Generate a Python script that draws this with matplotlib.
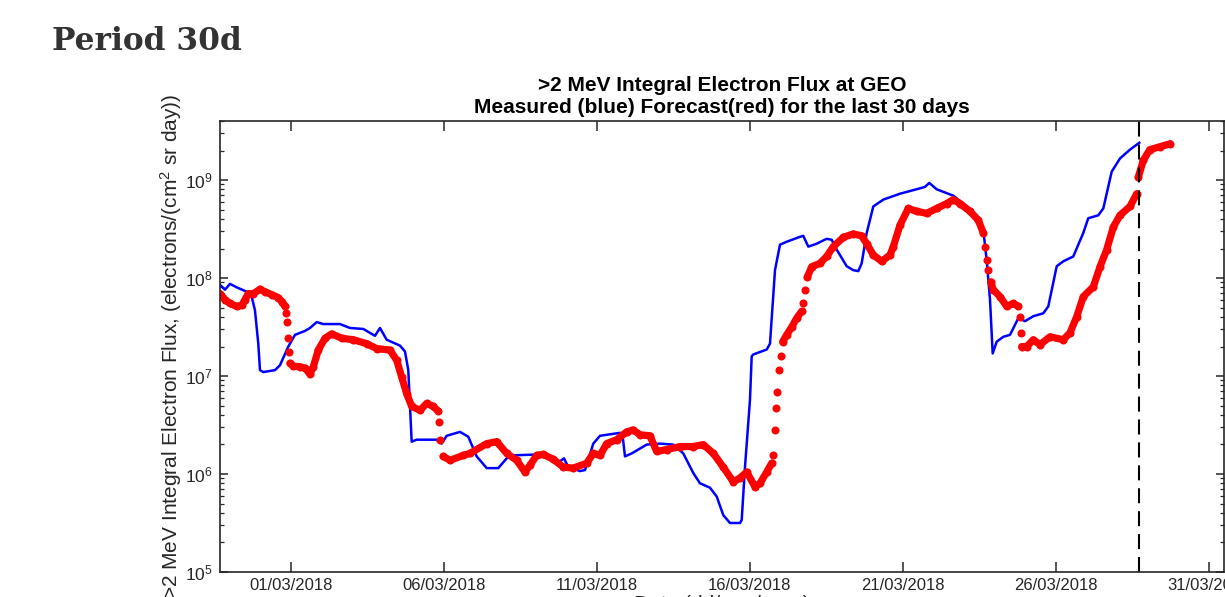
import numpy as np
import matplotlib
matplotlib.use("Agg")
import matplotlib.pyplot as plt
import matplotlib.dates as mdates
import pandas as pd

plt.rcParams['font.family'] = ['Liberation Sans', 'DejaVu Sans']
plt.rcParams['mathtext.fontset'] = 'custom'
plt.rcParams['mathtext.rm'] = 'Liberation Sans'
plt.rcParams['mathtext.it'] = 'Liberation Sans:italic'
plt.rcParams['mathtext.bf'] = 'Liberation Sans:bold'

# time axis in days since 01/03/2018 00:00 UT, flux as log10(electrons/(cm^2 sr day))
t0 = pd.Timestamp('2018-03-01')
now_day = 27.73

meas_day = [-2.310, -2.147, -1.984, -1.765, -1.438, -1.275, -1.167, -1.059, -1.003, -0.895,
            -0.513, -0.350, -0.078, 0.141, 0.467, 0.631, 0.850, 1.065, 1.611, 1.938,
            2.373, 2.755, 2.918, 3.137, 3.572, 3.735, 3.843, 3.954, 4.118, 4.771,
            4.935, 5.098, 5.533, 5.804, 6.078, 6.405, 6.784, 7.059, 7.222, 8.147,
            8.801, 8.931, 9.072, 9.454, 9.618, 9.889, 10.108, 10.761, 10.850, 10.925,
            11.144, 11.634, 12.069, 12.503, 12.830, 13.157, 13.376, 13.703, 13.922, 14.137,
            14.356, 14.683, 14.739, 14.846, 15.010, 15.065, 15.118, 15.556, 15.663, 15.827,
            15.990, 16.209, 16.644, 16.752, 16.915, 17.190, 17.516, 17.680, 17.843, 18.170,
            18.386, 18.549, 18.660, 18.824, 19.039, 19.366, 19.912, 20.565, 20.729, 20.869,
            21.111, 21.654, 21.980, 22.307, 22.634, 22.745, 22.853, 22.941, 23.072, 23.288,
            23.507, 23.778, 23.997, 24.268, 24.595, 24.758, 25.033, 25.248, 25.575, 25.902,
            26.065, 26.392, 26.556, 26.830, 27.101, 27.428, 27.732]
meas_log = [7.93, 7.88, 7.94, 7.905, 7.86, 7.81, 7.67, 7.33, 7.06, 7.04,
            7.06, 7.11, 7.30, 7.42, 7.46, 7.49, 7.55, 7.53, 7.53, 7.49,
            7.48, 7.41, 7.49, 7.37, 7.31, 7.25, 7.06, 6.33, 6.35, 6.35,
            6.31, 6.39, 6.43, 6.38, 6.18, 6.06, 6.06, 6.16, 6.19, 6.20,
            6.13, 6.16, 6.07, 6.03, 6.04, 6.31, 6.39, 6.42, 6.38, 6.18,
            6.21, 6.30, 6.31, 6.30, 6.21, 6.01, 5.905, 5.86, 5.77, 5.58,
            5.50, 5.50, 5.53, 6.07, 6.76, 7.20, 7.22, 7.27, 7.33, 8.08,
            8.34, 8.37, 8.42, 8.43, 8.32, 8.35, 8.40, 8.39, 8.29, 8.12,
            8.08, 8.07, 8.15, 8.46, 8.73, 8.80, 8.86, 8.915, 8.93, 8.97,
            8.905, 8.84, 8.76, 8.66, 8.49, 8.18, 7.78, 7.23, 7.35, 7.40,
            7.42, 7.59, 7.56, 7.61, 7.64, 7.71, 8.12, 8.17, 8.22, 8.46,
            8.61, 8.64, 8.71, 9.085, 9.22, 9.31, 9.38]

fcst_day = [-2.310, -2.147, -1.984, -1.765, -1.601, -1.493, -1.386, -1.222, -1.003, -0.840,
            -0.621, -0.405, -0.294, -0.186, -0.154, -0.111, -0.078, -0.046, -0.023, 0.085,
            0.304, 0.467, 0.631, 0.739, 0.902, 1.121, 1.340, 1.667, 2.046, 2.484,
            2.810, 3.245, 3.464, 3.627, 3.791, 3.954, 4.225, 4.444, 4.660, 4.824,
            4.856, 4.879, 4.987, 5.206, 5.641, 5.859, 6.405, 6.732, 7.059, 7.386,
            7.657, 7.820, 8.039, 8.255, 8.582, 8.908, 9.235, 9.673, 9.889, 10.108,
            10.327, 10.654, 10.980, 11.196, 11.415, 11.742, 11.961, 12.288, 12.722, 13.157,
            13.484, 13.810, 14.137, 14.464, 14.683, 14.902, 15.173, 15.337, 15.556, 15.719,
            15.771, 15.827, 15.859, 15.902, 15.967, 16.013, 16.078, 16.209, 16.373, 16.536,
            16.699, 16.752, 16.807, 16.882, 17.026, 17.297, 17.516, 17.732, 18.059, 18.386,
            18.660, 18.824, 19.039, 19.314, 19.585, 19.693, 19.912, 20.183, 20.458, 20.784,
            21.111, 21.438, 21.654, 21.873, 22.199, 22.471, 22.634, 22.690, 22.745, 22.797,
            22.876, 22.961, 23.180, 23.399, 23.614, 23.778, 23.833, 23.856, 23.889, 24.052,
            24.268, 24.487, 24.814, 25.248, 25.467, 25.686, 25.902, 26.229, 26.448, 26.667,
            26.883, 27.101, 27.428, 27.647, 27.699, 27.863, 28.075, 28.415, 28.742]
fcst_log = [7.84, 7.78, 7.74, 7.71, 7.72, 7.78, 7.84, 7.84, 7.885, 7.86,
            7.83, 7.80, 7.76, 7.71, 7.64, 7.55, 7.385, 7.25, 7.13, 7.10,
            7.095, 7.08, 7.02, 7.095, 7.265, 7.385, 7.43, 7.385, 7.37, 7.33,
            7.28, 7.265, 7.16, 6.99, 6.82, 6.69, 6.65, 6.72, 6.69, 6.64,
            6.53, 6.35, 6.18, 6.14, 6.19, 6.21, 6.31, 6.33, 6.21, 6.14,
            6.02, 6.09, 6.19, 6.20, 6.15, 6.07, 6.06, 6.11, 6.21, 6.19,
            6.31, 6.35, 6.43, 6.45, 6.40, 6.39, 6.23, 6.25, 6.28, 6.28,
            6.30, 6.21, 6.07, 5.92, 5.96, 6.02, 5.87, 5.905, 6.02, 6.11,
            6.19, 6.45, 6.67, 6.84, 7.06, 7.20, 7.35, 7.42, 7.50, 7.59,
            7.66, 7.74, 7.88, 8.01, 8.115, 8.15, 8.22, 8.32, 8.415, 8.45,
            8.43, 8.35, 8.235, 8.17, 8.235, 8.32, 8.54, 8.71, 8.68, 8.66,
            8.71, 8.76, 8.80, 8.76, 8.68, 8.59, 8.46, 8.32, 8.18, 8.08,
            7.96, 7.88, 7.81, 7.71, 7.74, 7.71, 7.605, 7.44, 7.30, 7.30,
            7.37, 7.32, 7.40, 7.37, 7.44, 7.605, 7.81, 7.91, 8.115, 8.29,
            8.52, 8.64, 8.73, 8.86, 9.03, 9.20, 9.31, 9.34, 9.37]

x0 = mdates.date2num(t0)
mx = x0 + np.array(meas_day)
my = 10 ** np.array(meas_log)
fx = x0 + np.array(fcst_day)
fy = 10 ** np.array(fcst_log)

fig = plt.figure(figsize=(12.25, 5.97), dpi=100)
fig.text(52 / 1225, 1 - 50 / 597, 'Period 30d', family='DejaVu Serif', weight='bold',
         fontsize=22.5, color='#333333', va='baseline')

ax = fig.add_axes([220 / 1225, 25 / 597, 1004 / 1225, 451 / 597])
ax.set_yscale('log')

ax.plot(mx, my, color='blue', lw=1.8)

# forecast dots: join the slow parts into a band, leave fast jumps as loose dots
fd = np.array(fcst_day)
fl = np.array(fcst_log)
steep = np.abs(np.diff(fl)) / np.diff(fd) > 1.5
cuts = np.where(steep)[0] + 1
for sx, sy in zip(np.split(fx, cuts), np.split(fy, cuts)):
    if len(sx) > 1:
        ax.plot(sx, sy, color='red', lw=5.2, solid_capstyle='round', solid_joinstyle='round')
ax.plot(fx, fy, 'o', color='red', ms=5.8, mec='none')

ax.axvline(x0 + now_day, color='black', lw=1.5, ls=(0, (7.2, 3.8)))

ax.set_xlim(x0 - 2.31, x0 + 30.5)
ax.set_ylim(1e5, 4e9)
ax.xaxis.set_major_locator(mdates.DayLocator(bymonthday=[1, 6, 11, 16, 21, 26, 31]))
ax.xaxis.set_major_formatter(mdates.DateFormatter('%d/%m/%Y'))

ax.tick_params(which='both', direction='in', top=True, right=True, colors='#262626',
               labelsize=12)
ax.tick_params(axis='x', which='major', length=7, width=1.1, pad=4)
ax.tick_params(axis='y', which='major', length=6, width=1.1, pad=5, labelsize=12.5)
ax.tick_params(axis='y', which='minor', length=3, width=0.9)
for s in ax.spines.values():
    s.set_linewidth(1.2)
    s.set_color('#262626')

ax.set_title('>2 MeV Integral Electron Flux at GEO\nMeasured (blue) Forecast(red) for the last 30 days',
             fontsize=15, fontweight='bold', linespacing=1.2, pad=6)
ax.set_ylabel('>2 MeV Integral Electron Flux, (electrons/(cm$^2$ sr day))', fontsize=15,
              color='#262626')
ax.yaxis.set_label_coords(-0.036, 0.5)
ax.set_xlabel('Date (dd/mm/yyyy)', fontsize=15, color='#262626')
ax.xaxis.set_label_coords(0.5, -0.050)

fig.savefig('out.png', dpi=100)
